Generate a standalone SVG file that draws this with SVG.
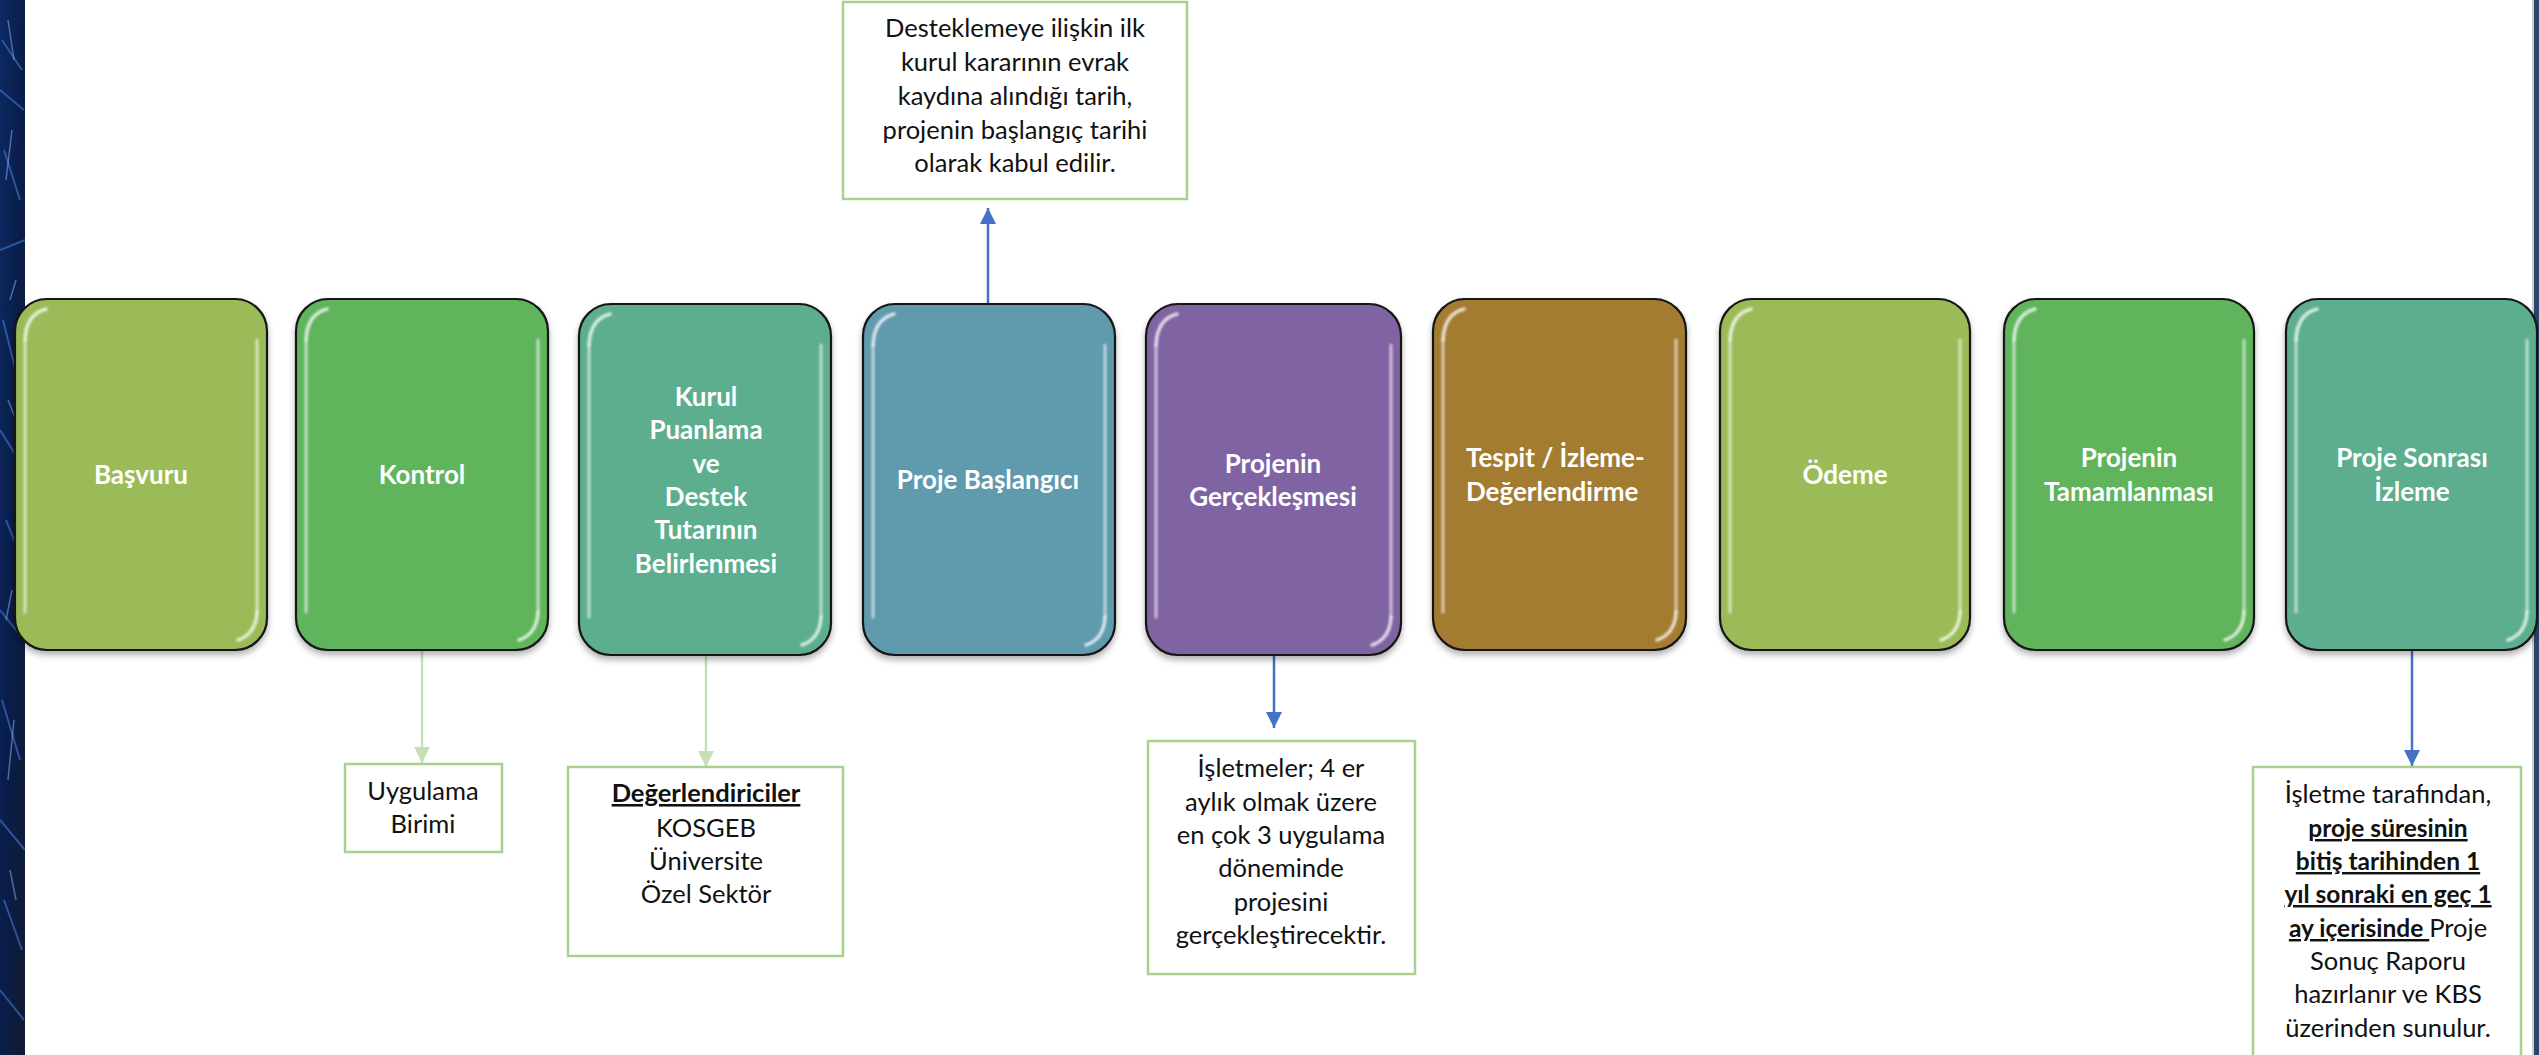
<svg xmlns="http://www.w3.org/2000/svg" width="2539" height="1055" viewBox="0 0 2539 1055">
<style>
.step{stroke:#141414;stroke-width:2.2}
.hl{fill:none;stroke:#ffffff;stroke-opacity:0.6;stroke-width:3;stroke-linecap:round}
.hls{fill:none;stroke:#ffffff;stroke-opacity:0.75;stroke-width:3.5;stroke-linecap:round}
.st{font-family:Lato,"Open Sans","Liberation Sans",sans-serif;font-weight:700;font-size:26px;fill:#ffffff;text-anchor:middle}
.note{fill:#ffffff;stroke:#A9D18E;stroke-width:2.5}
.nt{font-family:Lato,"Open Sans","Liberation Sans",sans-serif;font-size:25.5px;fill:#111111;text-anchor:middle}
.bu{font-weight:700;text-decoration:underline}
.sm{font-size:24.5px}
.cb{fill:none;stroke:#4472C4;stroke-width:2.5}
.cg{fill:none;stroke:#C5E0B4;stroke-width:2.5}
</style>
<defs>
<filter id="sh" x="-10%" y="-10%" width="120%" height="125%">
<feDropShadow dx="0" dy="4" stdDeviation="3" flood-color="#000" flood-opacity="0.3"/>
</filter>
<filter id="bl" x="-20%" y="-5%" width="140%" height="110%">
<feGaussianBlur stdDeviation="0.9"/>
</filter>
<marker id="ab" markerUnits="userSpaceOnUse" markerWidth="18" markerHeight="18" refX="16" refY="8" orient="auto">
<path d="M0,0 L16,8 L0,16 Z" fill="#4472C4"/>
</marker>
<marker id="ag" markerUnits="userSpaceOnUse" markerWidth="18" markerHeight="18" refX="16" refY="8" orient="auto">
<path d="M0,0 L16,8 L0,16 Z" fill="#C5E0B4"/>
</marker>
<linearGradient id="strip" x1="0" y1="0" x2="1" y2="1">
<stop offset="0" stop-color="#0d2a63"/>
<stop offset="0.5" stop-color="#0a1d4a"/>
<stop offset="1" stop-color="#111a33"/>
</linearGradient>
</defs>
<rect width="2539" height="1055" fill="#ffffff"/>
<g id="left-strip">
<rect x="0" y="0" width="25" height="1055" fill="url(#strip)"/>
<path d="M2,40 L22,70 M0,90 L24,110 M4,150 L20,200 M0,250 L25,240 M3,320 L18,380 M0,430 L25,470 M6,520 L22,560 M0,610 L24,640 M2,700 L20,760 M0,820 L25,850 M4,900 L22,950 M0,990 L24,1020" stroke="#3d7ad8" stroke-width="2" stroke-opacity="0.6"/>
<path d="M8,20 L14,60 M12,130 L6,180 M16,280 L10,300 M8,400 L16,420 M12,590 L6,620 M14,720 L8,780 M10,870 L16,900" stroke="#8fbaf5" stroke-width="1.5" stroke-opacity="0.5"/>
</g>
<g id="right-strip">
<rect x="2532" y="0" width="2" height="1055" fill="#c9ced6"/>
<rect x="2534" y="0" width="5" height="1055" fill="#2B4468"/>
</g>
<g id="connectors">
<path class="cb" d="M988,304 L988,208" marker-end="url(#ab)"/>
<path class="cg" d="M422,650 L422,763" marker-end="url(#ag)"/>
<path class="cg" d="M706,655 L706,767" marker-end="url(#ag)"/>
<path class="cb" d="M1274,655 L1274,728" marker-end="url(#ab)"/>
<path class="cb" d="M2412,650 L2412,766" marker-end="url(#ab)"/>
</g>
<g id="n1">
<rect class="step" x="15" y="299" width="252" height="351" rx="32" fill="#9BBB59" filter="url(#sh)"/>
<g filter="url(#bl)"><path class="hl" d="M25,612 L25,340"/><path class="hls" d="M25,340 Q26,314 46,309"/>
<path class="hl" d="M257,340 L257,612"/><path class="hls" d="M257,612 Q256,634 238,640"/></g>
<text class="st" x="141" y="484">Başvuru</text>
</g>
<g id="n2">
<rect class="step" x="296" y="299" width="252" height="351" rx="32" fill="#5FB45B" filter="url(#sh)"/>
<g filter="url(#bl)"><path class="hl" d="M306,612 L306,340"/><path class="hls" d="M306,340 Q307,314 327,309"/>
<path class="hl" d="M538,340 L538,612"/><path class="hls" d="M538,612 Q537,634 519,640"/></g>
<text class="st" x="422" y="484">Kontrol</text>
</g>
<g id="n3">
<rect class="step" x="579" y="304" width="252" height="351" rx="32" fill="#5BAE8E" filter="url(#sh)"/>
<g filter="url(#bl)"><path class="hl" d="M589,617 L589,345"/><path class="hls" d="M589,345 Q590,319 610,314"/>
<path class="hl" d="M821,345 L821,617"/><path class="hls" d="M821,617 Q820,639 802,645"/></g>
<text class="st" x="706" y="406">Kurul</text>
<text class="st" x="706" y="439">Puanlama</text>
<text class="st" x="706" y="473">ve</text>
<text class="st" x="706" y="506">Destek</text>
<text class="st" x="706" y="539">Tutarının</text>
<text class="st" x="706" y="573">Belirlenmesi</text>
</g>
<g id="n4">
<rect class="step" x="863" y="304" width="252" height="351" rx="32" fill="#5F9AAD" filter="url(#sh)"/>
<g filter="url(#bl)"><path class="hl" d="M873,617 L873,345"/><path class="hls" d="M873,345 Q874,319 894,314"/>
<path class="hl" d="M1105,345 L1105,617"/><path class="hls" d="M1105,617 Q1104,639 1086,645"/></g>
<text class="st" x="988" y="489">Proje Başlangıcı</text>
</g>
<g id="n5">
<rect class="step" x="1146" y="304" width="255" height="351" rx="32" fill="#8064A2" filter="url(#sh)"/>
<g filter="url(#bl)"><path class="hl" d="M1156,617 L1156,345"/><path class="hls" d="M1156,345 Q1157,319 1177,314"/>
<path class="hl" d="M1391,345 L1391,617"/><path class="hls" d="M1391,617 Q1390,639 1372,645"/></g>
<text class="st" x="1273" y="473">Projenin</text>
<text class="st" x="1273" y="506">Gerçekleşmesi</text>
</g>
<g id="n6">
<rect class="step" x="1433" y="299" width="253" height="351" rx="32" fill="#A37B31" filter="url(#sh)"/>
<g filter="url(#bl)"><path class="hl" d="M1443,612 L1443,340"/><path class="hls" d="M1443,340 Q1444,314 1464,309"/>
<path class="hl" d="M1676,340 L1676,612"/><path class="hls" d="M1676,612 Q1675,634 1657,640"/></g>
<text class="st" x="1466" y="467" style="text-anchor:start">Tespit / İzleme-</text>
<text class="st" x="1466" y="501" style="text-anchor:start">Değerlendirme</text>
</g>
<g id="n7">
<rect class="step" x="1720" y="299" width="250" height="351" rx="32" fill="#9BBB59" filter="url(#sh)"/>
<g filter="url(#bl)"><path class="hl" d="M1730,612 L1730,340"/><path class="hls" d="M1730,340 Q1731,314 1751,309"/>
<path class="hl" d="M1960,340 L1960,612"/><path class="hls" d="M1960,612 Q1959,634 1941,640"/></g>
<text class="st" x="1845" y="484">Ödeme</text>
</g>
<g id="n8">
<rect class="step" x="2004" y="299" width="250" height="351" rx="32" fill="#5FB45B" filter="url(#sh)"/>
<g filter="url(#bl)"><path class="hl" d="M2014,612 L2014,340"/><path class="hls" d="M2014,340 Q2015,314 2035,309"/>
<path class="hl" d="M2244,340 L2244,612"/><path class="hls" d="M2244,612 Q2243,634 2225,640"/></g>
<text class="st" x="2129" y="467">Projenin</text>
<text class="st" x="2129" y="501">Tamamlanması</text>
</g>
<g id="n9">
<rect class="step" x="2286" y="299" width="251" height="351" rx="32" fill="#5BAE8E" filter="url(#sh)"/>
<g filter="url(#bl)"><path class="hl" d="M2296,612 L2296,340"/><path class="hls" d="M2296,340 Q2297,314 2317,309"/>
<path class="hl" d="M2527,340 L2527,612"/><path class="hls" d="M2527,612 Q2526,634 2508,640"/></g>
<text class="st" x="2412" y="467">Proje Sonrası</text>
<text class="st" x="2412" y="501">İzleme</text>
</g>
<g id="note-start">
<rect class="note" x="843" y="2" width="344" height="197"/>
<text class="nt" x="1015" y="37">Desteklemeye ilişkin ilk</text>
<text class="nt" x="1015" y="71">kurul kararının evrak</text>
<text class="nt" x="1015" y="105">kaydına alındığı tarih,</text>
<text class="nt" x="1015" y="139">projenin başlangıç tarihi</text>
<text class="nt" x="1015" y="172">olarak kabul edilir.</text>
</g>
<g id="note-unit">
<rect class="note" x="345" y="764" width="157" height="88"/>
<text class="nt" x="423" y="800">Uygulama</text>
<text class="nt" x="423" y="833">Birimi</text>
</g>
<g id="note-eval">
<rect class="note" x="568" y="767" width="275" height="189"/>
<text class="nt" x="706" y="802"><tspan class="bu">Değerlendiriciler</tspan></text>
<text class="nt" x="706" y="837">KOSGEB</text>
<text class="nt" x="706" y="870">Üniversite</text>
<text class="nt" x="706" y="903">Özel Sektör</text>
</g>
<g id="note-impl">
<rect class="note" x="1148" y="741" width="267" height="233"/>
<text class="nt" x="1281" y="777">İşletmeler; 4 er</text>
<text class="nt" x="1281" y="811">aylık olmak üzere</text>
<text class="nt" x="1281" y="844">en çok 3 uygulama</text>
<text class="nt" x="1281" y="877">döneminde</text>
<text class="nt" x="1281" y="911">projesini</text>
<text class="nt" x="1281" y="944">gerçekleştirecektir.</text>
</g>
<g id="note-post">
<rect class="note" x="2253" y="767" width="268" height="300"/>
<text class="nt" x="2388" y="803">İşletme tarafından,</text>
<text class="nt" x="2388" y="837"><tspan class="bu sm">proje süresinin</tspan></text>
<text class="nt" x="2388" y="870"><tspan class="bu sm">bitiş tarihinden 1</tspan></text>
<text class="nt" x="2388" y="903"><tspan class="bu sm">yıl sonraki en geç 1</tspan></text>
<text class="nt" x="2388" y="937"><tspan class="bu sm">ay içerisinde </tspan>Proje</text>
<text class="nt" x="2388" y="970">Sonuç Raporu</text>
<text class="nt" x="2388" y="1003">hazırlanır ve KBS</text>
<text class="nt" x="2388" y="1037">üzerinden sunulur.</text>
</g>
</svg>
